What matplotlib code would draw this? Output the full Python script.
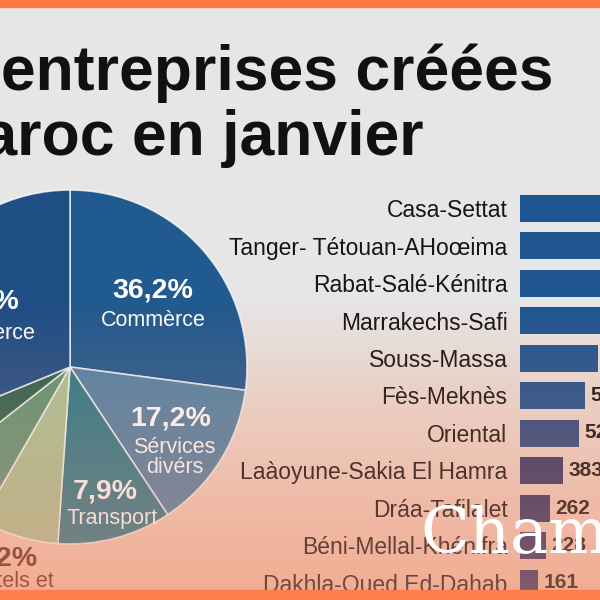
import numpy as np
import matplotlib
matplotlib.use("Agg")
import matplotlib.pyplot as plt
from matplotlib.patches import Rectangle

plt.rcParams["font.family"] = ["Liberation Sans", "DejaVu Sans"]

# --- data ---
title_lines = ["Nombre d'entreprises créées", "au Maroc en janvier"]

# pie: share of the circle each slice takes in the picture (%), and its printed label
sector_shares = [27.1, 13.6, 10.4, 7.2, 6.1, 4.4, 31.2]
sector_pct = ["36,2%", "17,2%", "7,9%", "8,2%", "", "", "24,6%"]
sector_names = ["Commèrce", "Sérvices\ndivérs", "Transport", "Hôtels et\nrestaurants", "", "", "Commerce"]

# bars: companies created per region
regions = ["Casa-Settat", "Tanger- Tétouan-AHoœima", "Rabat-Salé-Kénitra", "Marrakechs-Safi",
           "Souss-Massa", "Fès-Meknès", "Oriental", "Laàoyune-Sakia El Hamra",
           "Dráa-Tafilalet", "Béni-Mellal-Khénifra", "Dakhla-Oued Ed-Dahab"]
created = [2984, 1342, 1221, 1017, 688, 573, 521, 383, 262, 228, 161]

# --- styles ---
pie_colors = ["#215a8e", "#5283a5", "#2c7c8b", "#a9c495", "#5e9676", "#2b6450", "#1f4e85"]
bar_colors = ["#1f5590"] * 5 + ["#20548c", "#2c4a80", "#333765", "#2e3564", "#2c3464", "#2c3464"]
# label spots in pie-radius units: (pct x, pct y, name x, name y)
label_spots = [(0.47, 0.435, 0.47, 0.265), (0.57, -0.29, 0.59, -0.51), (0.20, -0.705, 0.24, -0.855),
               (-0.37, -1.08, -0.33, -1.27), None, None, (-0.52, 0.37, -0.49, 0.19)]
name_colors = ["white", "white", "white", "#6a2a1c", None, None, "white"]

W = H = 600
fig = plt.figure(figsize=(6, 6), dpi=100)

# background gradient (light grey to peach)
rows = np.linspace(0, 1, H)
t = np.clip((rows * H - 300) / 300, 0, 1)[:, None]
top = np.array([230, 230, 230]) / 255
bot = np.array([244, 198, 172]) / 255
bg = (top * (1 - t) + bot * t)[:, None, :]
bgax = fig.add_axes([0, 0, 1, 1], zorder=-5)
bgax.imshow(bg, aspect="auto", extent=[0, 1, 0, 1])
bgax.axis("off")

# title (cut at the left edge like the reference)
fig.text(553 / W, 1 - 90 / H, title_lines[0], ha="right", va="baseline",
         fontsize=45, fontweight="bold", color="#111111")
fig.text(424 / W, 1 - 155 / H, title_lines[1], ha="right", va="baseline",
         fontsize=45, fontweight="bold", color="#111111")

# pie
cx, cy, r = 70, 367, 177
axp = fig.add_axes([(cx - r) / W, (H - cy - r) / H, 2 * r / W, 2 * r / H])
axp.pie(sector_shares, colors=pie_colors, startangle=90, counterclock=False,
        wedgeprops=dict(edgecolor=(1, 1, 1, 0.75), linewidth=1.2))
axp.set_xlim(-1, 1)
axp.set_ylim(-1, 1)
axp.set_aspect("equal")
axp.axis("off")
for pct, name, spot, col in zip(sector_pct, sector_names, label_spots, name_colors):
    if spot is None:
        continue
    axp.text(spot[0], spot[1], pct, ha="center", va="center", fontsize=20.5,
             fontweight="bold", color=col)
    axp.text(spot[2], spot[3], name, ha="center", va="center", fontsize=15.5,
             color=col, linespacing=0.95)

# bars
n = len(regions)
axb = fig.add_axes([520 / W, -1.75 / H, 0.6, 37.5 * n / H])
y = np.arange(n)
axb.barh(y, created, height=0.72, color=bar_colors)
axb.set_ylim(n - 0.5, -0.5)
axb.set_xlim(0, 360 / 0.113)
axb.set_yticks(y)
axb.set_yticklabels(regions, fontsize=16.5, color="#151515")
axb.tick_params(axis="y", length=0, pad=9)
axb.set_xticks([])
for s in axb.spines.values():
    s.set_visible(False)
axb.patch.set_alpha(0)
for yi, v in zip(y, created):
    axb.annotate(f"{v}", (v, yi), xytext=(4, 0), textcoords="offset points",
                 va="center", ha="left", fontsize=15, fontweight="bold", color="#151515")

# warm tint over the lower half
a = np.clip((rows * H - 300) / 300, 0, 1) * 0.45
ov = np.zeros((H, 1, 4))
ov[:, 0, :3] = np.array([240, 140, 115]) / 255
ov[:, 0, 3] = a
ovax = fig.add_axes([0, 0, 1, 1], zorder=5)
ovax.imshow(ov, aspect="auto", extent=[0, 1, 0, 1])
ovax.axis("off")

# watermark
fig.text(420 / W, 1 - 553 / H, "Chamal", family="DejaVu Serif", fontsize=46,
         color="white", zorder=8, va="baseline")

# orange bands
fig.patches.append(Rectangle((0, 1 - 7 / H), 1, 7 / H, transform=fig.transFigure,
                             color="#ff7845", zorder=9))
fig.patches.append(Rectangle((0, 0), 1, 10 / H, transform=fig.transFigure,
                             color="#ff7d4d", zorder=9))

fig.savefig("out.png", dpi=100)
